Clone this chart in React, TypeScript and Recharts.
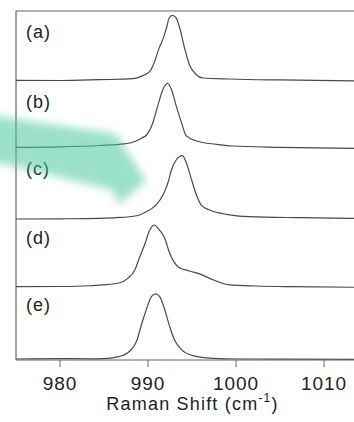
import React from 'react';
import { LineChart, Line, XAxis, YAxis, ReferenceLine } from 'recharts';

// Raman shift (cm-1) and normalised intensity
const SHIFT_A = [975, 980, 984.5, 988.3, 989.2, 990.2, 990.7, 991.2, 991.7, 992.1, 992.4, 992.75, 993.2, 993.6, 994.15, 994.7, 995.5, 996.2, 999.3, 1005, 1013.4];
const INT_A = [0.007, 0.004, 0.016, 0.03, 0.064, 0.136, 0.26, 0.45, 0.6, 0.76, 0.9, 0.938, 0.9, 0.756, 0.47, 0.231, 0.087, 0.04, 0.026, 0.012, 0.0];

const SHIFT_B = [975, 980, 984.5, 987.3, 988.5, 989.3, 989.8, 990.55, 991.1, 991.7, 992.2, 992.65, 993.2, 993.8, 994.35, 995.5, 997.75, 999.6, 1004.9, 1013.4];
const INT_B = [0.047, 0.054, 0.073, 0.095, 0.13, 0.18, 0.22, 0.4, 0.64, 0.88, 0.964, 0.88, 0.64, 0.4, 0.21, 0.138, 0.09, 0.066, 0.047, 0.033];

const SHIFT_C = [975, 980, 984.5, 986.4, 988.7, 989.8, 990.9, 991.7, 992.3, 992.6, 993.2, 993.9, 994.3, 994.9, 995.5, 996.05, 997, 998.9, 1001.5, 1007.2, 1013.4];
const INT_C = [0.02, 0.023, 0.03, 0.039, 0.067, 0.125, 0.22, 0.364, 0.554, 0.7, 0.865, 0.927, 0.84, 0.603, 0.364, 0.22, 0.149, 0.087, 0.053, 0.039, 0.03];

const SHIFT_D = [975, 980, 983.4, 984.9, 986.8, 987.7, 988.5, 989.0, 989.6, 990.2, 990.7, 991.3, 991.9, 992.4, 993.4, 994.7, 995.7, 997.0, 999.3, 1002.3, 1006.1, 1013.4];
const INT_D = [0.05, 0.053, 0.064, 0.075, 0.107, 0.17, 0.29, 0.457, 0.648, 0.862, 0.934, 0.862, 0.744, 0.55, 0.337, 0.275, 0.242, 0.17, 0.075, 0.06, 0.05, 0.042];

const SHIFT_E = [975, 980, 983.4, 984.9, 986.8, 987.9, 988.7, 989.2, 989.8, 990.4, 990.85, 991.3, 991.9, 992.45, 993.0, 993.8, 995.1, 997.4, 1000.4, 1013.4];
const INT_E = [0.014, 0.021, 0.017, 0.021, 0.053, 0.125, 0.268, 0.483, 0.72, 0.913, 0.946, 0.913, 0.72, 0.483, 0.29, 0.148, 0.062, 0.024, 0.014, 0.01];

const PANEL_LABELS = ['(a)', '(b)', '(c)', '(d)', '(e)'];
const X_TICKS = [980, 990, 1000, 1010];

const toPoints = (xs: number[], ys: number[]) => xs.map((x, i) => ({ shift: x, value: ys[i] }));

const traces = [
  { id: 'a', data: toPoints(SHIFT_A, INT_A), domain: [-4, 1] },
  { id: 'b', data: toPoints(SHIFT_B, INT_B), domain: [-3, 2] },
  { id: 'c', data: toPoints(SHIFT_C, INT_C), domain: [-2, 3] },
  { id: 'd', data: toPoints(SHIFT_D, INT_D), domain: [-1, 4] },
  { id: 'e', data: toPoints(SHIFT_E, INT_E), domain: [0, 5] },
];

const FONT = '"Liberation Sans", Arial, sans-serif';
const labelBaselines = [38, 107.5, 175, 243.5, 311];

export default function App() {
  return (
    <div style={{ position: 'absolute', left: 0, top: 0, width: 354, height: 422, background: '#fff', overflow: 'hidden' }}>
      <LineChart width={354} height={422} margin={{ top: 11, right: 0, bottom: 12, left: 16 }}>
        <XAxis
          type="number"
          dataKey="shift"
          domain={[975, 1013.4]}
          ticks={X_TICKS}
          allowDataOverflow
          height={50}
          tickSize={7}
          tickMargin={10}
          axisLine={{ stroke: '#666', strokeWidth: 1.2 }}
          tickLine={{ stroke: '#666' }}
          tick={{ fill: '#222', fontSize: 19, fontFamily: FONT, letterSpacing: 1 }}
        />
        {traces.map((t) => (
          <YAxis key={t.id} yAxisId={t.id} hide domain={t.domain} type="number" />
        ))}
        <ReferenceLine yAxisId="a" y={1} stroke="#666" strokeWidth={1.2} />
        <ReferenceLine yAxisId="a" x={975} stroke="#666" strokeWidth={1.2} />
        {traces.map((t) => (
          <Line
            key={t.id}
            yAxisId={t.id}
            data={t.data}
            dataKey="value"
            type="monotone"
            stroke="#4a4a4a"
            strokeWidth={1.2}
            dot={false}
            isAnimationActive={false}
          />
        ))}
      </LineChart>

      <svg width={354} height={422} style={{ position: 'absolute', left: 0, top: 0, pointerEvents: 'none' }}>
        <defs>
          <filter id="soft" x="-20%" y="-20%" width="140%" height="140%">
            <feGaussianBlur stdDeviation="4" />
          </filter>
        </defs>
        {PANEL_LABELS.map((l, i) => (
          <text key={l} x={26} y={labelBaselines[i]} fontSize={18} letterSpacing={1} fontFamily={FONT} fill="#222">
            {l}
          </text>
        ))}
        <polygon
          points="-12,115 116,134 146,181 118,205 113,190 -12,160"
          fill="#4cc79c"
          opacity={0.55}
          filter="url(#soft)"
        />
        <text x={192.5} y={409.5} textAnchor="middle" fontSize={18} letterSpacing={1.2} fontFamily={FONT} fill="#222">
          Raman Shift (cm
          <tspan fontSize={12} dy={-8}>-1</tspan>
          <tspan dy={8}>)</tspan>
        </text>
      </svg>
    </div>
  );
}
